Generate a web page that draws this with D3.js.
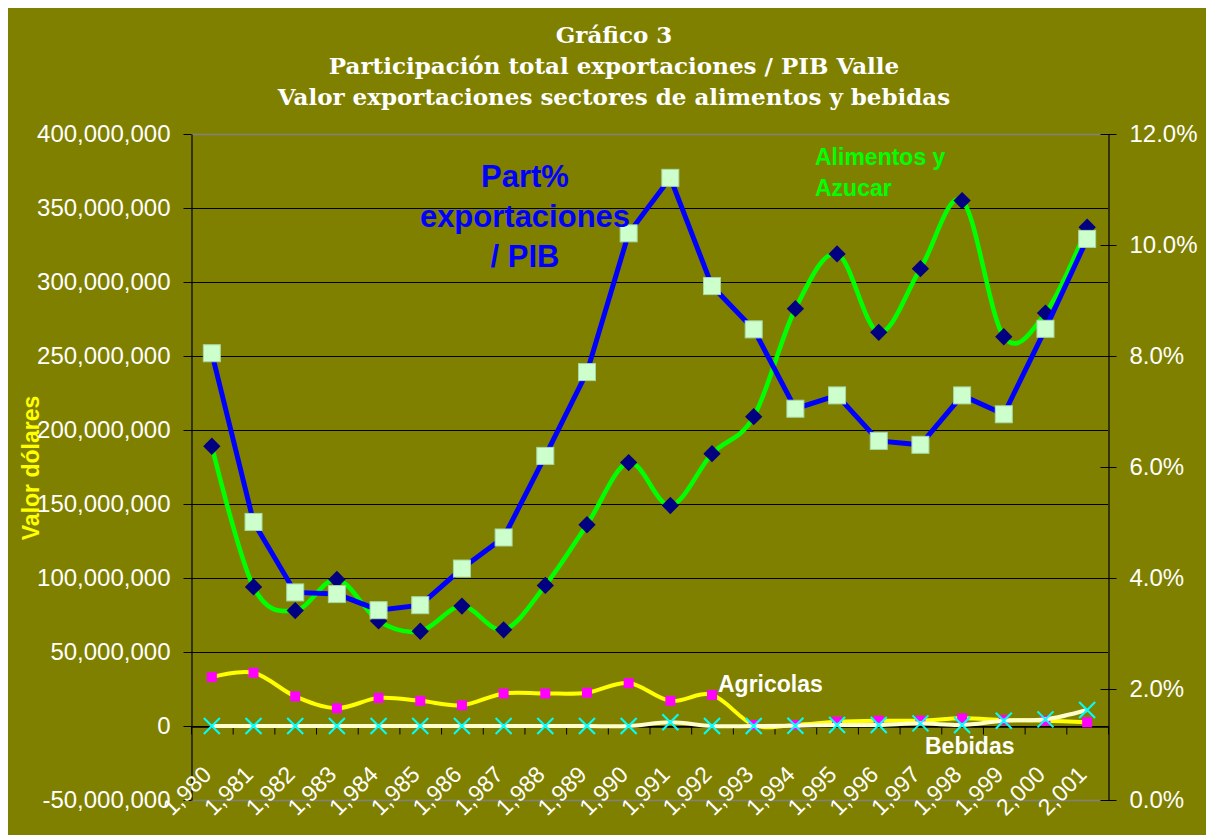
<!DOCTYPE html>
<html>
<head>
<meta charset="utf-8">
<script src="https://cdn.jsdelivr.net/npm/d3@7"></script>
<style>
body { margin: 0; background: #ffffff; }
#graph svg { display: block; }
</style>
</head>
<body>
<div id="graph"></div>
<script>
// Year labels as shown on the x axis
const years = ['1,980', '1,981', '1,982', '1,983', '1,984', '1,985', '1,986', '1,987',
    '1,988', '1,989', '1,990', '1,991', '1,992', '1,993', '1,994', '1,995', '1,996',
    '1,997', '1,998', '1,999', '2,000', '2,001'];

// Export values in dollars (left axis)
const alimentos = [189e6, 94e6, 78e6, 99e6, 71e6, 64e6, 81e6, 65e6, 95e6, 136e6, 178e6,
    149e6, 184e6, 209e6, 282e6, 319e6, 266e6, 309e6, 355e6, 263e6, 279e6, 337e6];
const agricolas = [33e6, 36e6, 20e6, 12e6, 19e6, 17e6, 14e6, 22e6, 22e6, 22.5e6, 29e6,
    17e6, 21e6, 0.7e6, 0.7e6, 2.9e6, 3.6e6, 3.6e6, 5.2e6, 4.1e6, 3.6e6, 2.5e6];
const bebidas = [0, 0, 0, 0, 0, 0, 0, 0, 0, 0, 0,
    2.5e6, 0, 0, 0.2e6, 0.7e6, 0.7e6, 1.8e6, 0.7e6, 3.6e6, 4.5e6, 10.8e6];

// Participation of exports in PIB (right axis)
const partPib = [0.0805, 0.0501, 0.0374, 0.0371, 0.0342, 0.0351, 0.0417, 0.0473, 0.0620,
    0.0771, 0.1021, 0.1121, 0.0926, 0.0848, 0.0705, 0.0729, 0.0647, 0.0640, 0.0729,
    0.0695, 0.0849, 0.1011];

const leftTicks = [-50e6, 0, 50e6, 100e6, 150e6, 200e6, 250e6, 300e6, 350e6, 400e6];
const rightTicks = [0, 0.02, 0.04, 0.06, 0.08, 0.10, 0.12];

const titleLines = ['Gráfico 3',
    'Participación total exportaciones / PIB Valle',
    'Valor exportaciones sectores de alimentos y bebidas'];

function showGraph() {
    var width = 1206, height = 835;
    var plot = {left: 191, right: 1108, top: 134, bottom: 800};
    var font = 'Arial, "Liberation Sans", sans-serif';

    var svg = d3.select('#graph').append('svg')
        .attr('width', width)
        .attr('height', height);

    // olive background
    svg.append('rect')
        .attr('x', 8).attr('y', 8)
        .attr('width', width - 8).attr('height', height - 8)
        .attr('fill', '#808000');

    // Scales
    var x = d3.scaleBand().domain(years).range([plot.left, plot.right]);
    var xEdge = d3.scaleLinear().domain([0, years.length]).range([plot.left, plot.right]);
    var yLeft = d3.scaleLinear().domain([-50e6, 400e6]).range([plot.bottom, plot.top]);
    var yRight = d3.scaleLinear().domain([0, 0.12]).range([plot.bottom, plot.top]);
    var cx = function(d, i) { return x(years[i]) + x.bandwidth() / 2; };

    // Gridlines (top and bottom are the grey plot border)
    svg.append('g').selectAll('line').data(leftTicks).enter().append('line')
        .attr('x1', plot.left).attr('x2', plot.right)
        .attr('y1', function(d) { return yLeft(d) + 0.5; })
        .attr('y2', function(d) { return yLeft(d) + 0.5; })
        .attr('stroke', function(d, i) { return (i == 0 || i == leftTicks.length - 1) ? '#808080' : '#000000'; })
        .attr('stroke-width', function(d, i) { return (i == 0 || i == leftTicks.length - 1) ? 1.5 : 1.2; });

    // Left axis
    var fmt = d3.format(',');
    var gl = svg.append('g')
        .attr('transform', 'translate(' + (plot.left + 0.5) + ',0)')
        .call(d3.axisLeft(yLeft).tickValues(leftTicks).tickSize(8).tickSizeOuter(0)
            .tickFormat(function(d) { return fmt(d).replace('\u2212', '-'); }));
    gl.select('.domain').attr('stroke', '#000000').attr('stroke-width', 1.2);
    gl.selectAll('.tick line').attr('stroke', '#000000');
    gl.selectAll('.tick text')
        .attr('x', -21)
        .attr('fill', '#ffffff')
        .style('font', '24px ' + font);

    // Right axis with crossing ticks
    var gr = svg.append('g')
        .attr('transform', 'translate(' + (plot.right + 0.5) + ',0)')
        .call(d3.axisRight(yRight).tickValues(rightTicks).tickSize(8).tickSizeOuter(0)
            .tickFormat(d3.format('.1%')));
    gr.select('.domain').attr('stroke', '#000000').attr('stroke-width', 1.2);
    gr.selectAll('.tick line').attr('x1', -8).attr('x2', 8).attr('stroke', '#000000');
    gr.selectAll('.tick text')
        .attr('x', 21)
        .attr('fill', '#ffffff')
        .style('font', '24px ' + font);

    // Category axis crossing at zero
    var gx = svg.append('g')
        .attr('transform', 'translate(0,' + (yLeft(0) + 0.5) + ')')
        .call(d3.axisBottom(xEdge).ticks(years.length).tickSize(8).tickSizeOuter(0).tickFormat(''));
    gx.select('.domain').attr('stroke', '#000000').attr('stroke-width', 1.5);
    gx.selectAll('.tick line').attr('stroke', '#000000');

    // Year labels, rotated, at the bottom of the plot
    svg.append('g').selectAll('text').data(years).enter().append('text')
        .attr('transform', function(d, i) { return 'translate(' + (cx(d, i) + 1) + ',776) rotate(-45)'; })
        .attr('text-anchor', 'end')
        .attr('fill', '#ffffff')
        .style('font', '23px ' + font)
        .text(function(d) { return d; });

    var smooth = d3.curveCatmullRom.alpha(0);

    // Alimentos y Azucar
    svg.append('path').datum(alimentos)
        .attr('d', d3.line().x(cx).y(function(d) { return yLeft(d); }).curve(smooth))
        .attr('fill', 'none').attr('stroke', '#00ff00').attr('stroke-width', 4.5);
    svg.append('g').selectAll('path').data(alimentos).enter().append('path')
        .attr('d', d3.symbol(d3.symbolSquare, 150))
        .attr('transform', function(d, i) { return 'translate(' + cx(d, i) + ',' + yLeft(d) + ') rotate(45)'; })
        .attr('fill', '#000080');

    // Agricolas
    svg.append('path').datum(agricolas)
        .attr('d', d3.line().x(cx).y(function(d) { return yLeft(d); }).curve(smooth))
        .attr('fill', 'none').attr('stroke', '#ffff00').attr('stroke-width', 4);
    svg.append('g').selectAll('rect').data(agricolas).enter().append('rect')
        .attr('x', function(d, i) { return cx(d, i) - 5; })
        .attr('y', function(d) { return yLeft(d) - 5; })
        .attr('width', 10).attr('height', 10)
        .attr('fill', '#ff00ff');

    // Bebidas
    svg.append('path').datum(bebidas)
        .attr('d', d3.line().x(cx).y(function(d) { return yLeft(d); }).curve(smooth))
        .attr('fill', 'none').attr('stroke', '#ffffcc').attr('stroke-width', 4);
    var cross = svg.append('g').selectAll('g').data(bebidas).enter().append('g')
        .attr('transform', function(d, i) { return 'translate(' + cx(d, i) + ',' + yLeft(d) + ')'; });
    cross.append('line').attr('x1', -8).attr('y1', -8).attr('x2', 8).attr('y2', 8);
    cross.append('line').attr('x1', -8).attr('y1', 8).attr('x2', 8).attr('y2', -8);
    cross.selectAll('line').attr('stroke', '#00ffff').attr('stroke-width', 2);

    // Part% exportaciones / PIB (right axis)
    svg.append('path').datum(partPib)
        .attr('d', d3.line().x(cx).y(function(d) { return yRight(d); }))
        .attr('fill', 'none').attr('stroke', '#0000ff').attr('stroke-width', 5);
    svg.append('g').selectAll('rect').data(partPib).enter().append('rect')
        .attr('x', function(d, i) { return cx(d, i) - 8.5; })
        .attr('y', function(d) { return yRight(d) - 8.5; })
        .attr('width', 17).attr('height', 17)
        .attr('fill', '#ccffcc')
        .attr('stroke', '#a8d8a8').attr('stroke-width', 1);

    // Title
    svg.append('g').selectAll('text').data(titleLines).enter().append('text')
        .attr('x', 614)
        .attr('y', function(d, i) { return 43 + i * 31; })
        .attr('text-anchor', 'middle')
        .attr('fill', '#ffffff')
        .style('font', 'bold 23px "DejaVu Serif", serif')
        .text(function(d) { return d; });

    // Axis title
    svg.append('text')
        .attr('transform', 'translate(39,468) rotate(-90)')
        .attr('text-anchor', 'middle')
        .attr('fill', '#ffff00')
        .style('font', 'bold 23px ' + font)
        .text('Valor dólares');

    // Series annotations
    var notes = [
        {lines: ['Part%', 'exportaciones', '/ PIB'], x: 525, y: 187, dy: 40, size: 31, anchor: 'middle', color: '#0000ff'},
        {lines: ['Alimentos y', 'Azucar'], x: 815, y: 165, dy: 31, size: 23, anchor: 'start', color: '#00ff00'},
        {lines: ['Agricolas'], x: 718, y: 692, dy: 0, size: 23, anchor: 'start', color: '#ffffff'},
        {lines: ['Bebidas'], x: 925, y: 754, dy: 0, size: 23, anchor: 'start', color: '#ffffff'}
    ];
    notes.forEach(function(n) {
        svg.append('g').selectAll('text').data(n.lines).enter().append('text')
            .attr('x', n.x)
            .attr('y', function(d, i) { return n.y + i * n.dy; })
            .attr('text-anchor', n.anchor)
            .attr('fill', n.color)
            .style('font', 'bold ' + n.size + 'px ' + font)
            .text(function(d) { return d; });
    });
}

document.addEventListener('DOMContentLoaded', function() {
    showGraph();
});
</script>
</body>
</html>
